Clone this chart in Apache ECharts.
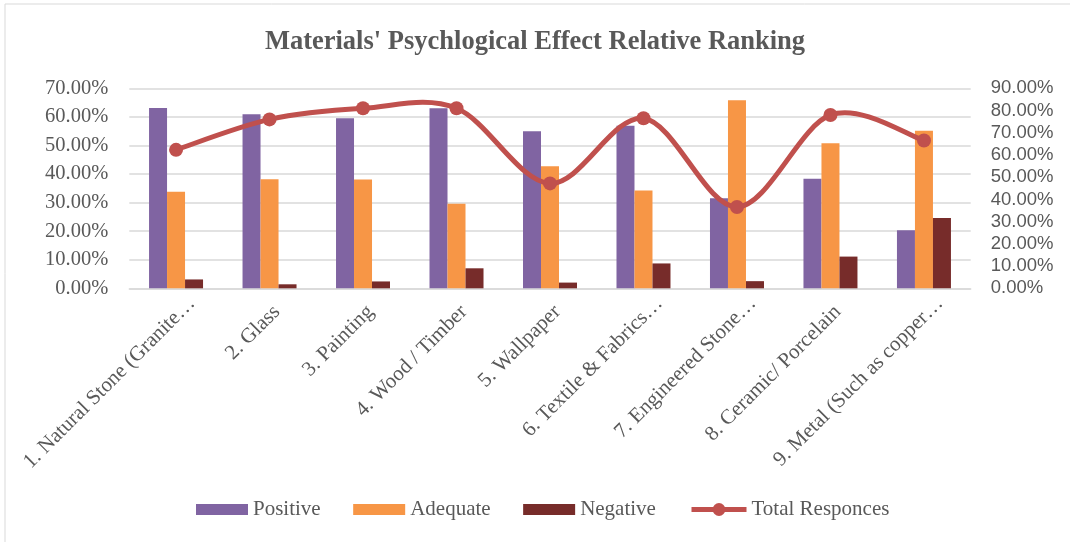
<!DOCTYPE html>
<html>
<head>
<meta charset="utf-8">
<script src="https://cdn.jsdelivr.net/npm/echarts@6/dist/echarts.min.js"></script>
<style>
html,body{margin:0;padding:0;background:#fff;}
#chart{width:1070px;height:542px;}
</style>
</head>
<body>
<div id="chart"></div>
<script>
var categories = [
  '1. Natural Stone (Granite\u2026',
  '2. Glass',
  '3. Painting',
  '4. Wood / Timber',
  '5. Wallpaper',
  '6. Textile & Fabrics\u2026',
  '7. Engineered Stone\u2026',
  '8. Ceramic/ Porcelain',
  '9. Metal (Such as copper\u2026'
];
var positive = [63.1, 60.9, 59.5, 63.0, 55.0, 56.9, 31.5, 38.3, 20.3];
var adequate = [33.8, 38.2, 38.1, 29.6, 42.7, 34.2, 65.8, 50.8, 55.1];
var negative = [3.1, 1.4, 2.4, 7.0, 2.0, 8.7, 2.5, 11.1, 24.6];
var totalResponces = [62.3, 76.0, 81.0, 81.0, 47.2, 76.5, 36.6, 78.0, 66.5];
var leftTicks = [0, 70, 10];
var rightTicks = [0, 90, 10];

var serif = "'Liberation Serif','Times New Roman',serif";
var sans = "'Liberation Sans',Arial,sans-serif";
var grey = '#595959';
var lineColor = '#C0504D';

var chart = echarts.init(document.getElementById('chart'), null, {renderer: 'canvas'});
var pct = function (v) { return v.toFixed(2) + '%'; };

// Spline segment (Catmull-Rom style, like the spreadsheet's smoothed line)
function renderSegment(params, api) {
  var i = params.dataIndex;
  var n = totalResponces.length;
  if (i >= n - 1) return null;
  var pt = function (k) {
    k = Math.max(0, Math.min(n - 1, k));
    return api.coord([k, totalResponces[k]]);
  };
  var p0 = pt(i - 1), p1 = pt(i), p2 = pt(i + 1), p3 = pt(i + 2);
  return {
    type: 'bezierCurve',
    shape: {
      x1: p1[0], y1: p1[1],
      x2: p2[0], y2: p2[1],
      cpx1: p1[0] + (p2[0] - p0[0]) / 6, cpy1: p1[1] + (p2[1] - p0[1]) / 6,
      cpx2: p2[0] - (p3[0] - p1[0]) / 6, cpy2: p2[1] - (p3[1] - p1[1]) / 6
    },
    style: {fill: null, stroke: lineColor, lineWidth: 5, lineCap: 'round'},
    silent: true
  };
}

chart.setOption({
  animation: false,
  backgroundColor: '#ffffff',
  graphic: [{
    type: 'rect',
    shape: {x: 5, y: 4, width: 1200, height: 700},
    style: {fill: 'none', stroke: '#D9D9D9', lineWidth: 1},
    silent: true, z: -1
  }],
  title: {
    text: "Materials' Psychlogical Effect Relative Ranking",
    left: 'center',
    top: 24,
    textStyle: {fontFamily: serif, fontWeight: 'bold', fontSize: 26.5, color: grey}
  },
  legend: [{
    left: 191,
    top: 494,
    itemWidth: 52,
    itemHeight: 11,
    itemGap: 32.5,
    textStyle: {fontFamily: serif, fontSize: 21, color: grey},
    data: [
      {name: 'Positive', icon: 'rect'},
      {name: 'Adequate', icon: 'rect'},
      {name: 'Negative', icon: 'rect'}
    ]
  }, {
    left: 684,
    top: 494,
    itemWidth: 55,
    itemHeight: 16,
    textStyle: {fontFamily: serif, fontSize: 21, color: grey},
    data: [
      {name: 'Total Responces', lineStyle: {width: 5, color: lineColor, opacity: 1}}
    ]
  }],
  grid: {left: 129.3, right: 99.3, top: 88.3, bottom: 253.7, containLabel: false},
  xAxis: {
    type: 'category',
    data: categories,
    axisTick: {show: false},
    axisLine: {lineStyle: {color: '#D9D9D9', width: 1.5}},
    axisLabel: {
      interval: 0,
      rotate: 45,
      margin: 13,
      verticalAlign: 'top',
      fontFamily: serif,
      fontSize: 21,
      color: grey,
      formatter: function (v) {
        return /\u2026$/.test(v) ? '{t|' + v + '}' : '{n|' + v + '}';
      },
      rich: {
        t: {fontFamily: serif, fontSize: 21, color: grey, padding: [0, -12, 0, 0]},
        n: {fontFamily: serif, fontSize: 21, color: grey}
      }
    }
  },
  yAxis: [{
    type: 'value',
    min: leftTicks[0], max: leftTicks[1], interval: leftTicks[2],
    axisLine: {show: false}, axisTick: {show: false},
    splitLine: {lineStyle: {color: '#D9D9D9', width: 1.5}},
    axisLabel: {formatter: pct, fontFamily: serif, fontSize: 20.5, color: grey, margin: 21}
  }, {
    type: 'value',
    min: rightTicks[0], max: rightTicks[1], interval: rightTicks[2],
    axisLine: {show: false}, axisTick: {show: false},
    splitLine: {show: false},
    axisLabel: {formatter: pct, fontFamily: sans, fontSize: 18.5, color: grey, margin: 20}
  }],
  series: [{
    name: 'Positive', type: 'bar', data: positive,
    barWidth: 18, barGap: '0%',
    itemStyle: {color: '#8064A2'}
  }, {
    name: 'Adequate', type: 'bar', data: adequate,
    barWidth: 18, barGap: '0%',
    itemStyle: {color: '#F79646'}
  }, {
    name: 'Negative', type: 'bar', data: negative,
    barWidth: 18, barGap: '0%',
    itemStyle: {color: '#772C2A'}
  }, {
    name: 'Total Responces curve', type: 'custom', yAxisIndex: 1,
    data: totalResponces.map(function (v, i) { return [i, v]; }),
    renderItem: renderSegment,
    z: 4, silent: true
  }, {
    name: 'Total Responces', type: 'line', yAxisIndex: 1, data: totalResponces,
    symbol: 'circle', symbolSize: 14,
    lineStyle: {color: lineColor, width: 5, opacity: 0},
    itemStyle: {color: lineColor},
    z: 5
  }]
});
</script>
</body>
</html>
